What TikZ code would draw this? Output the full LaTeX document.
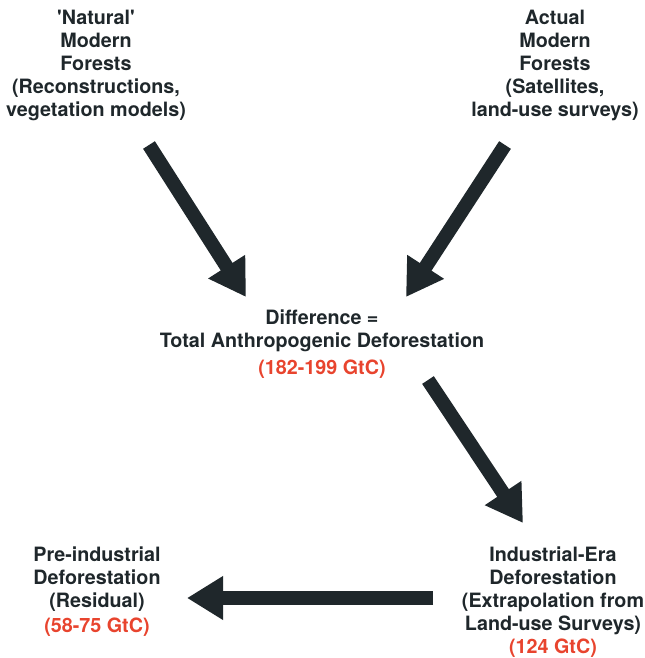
\documentclass[tikz,border=0pt]{standalone}
\usepackage{fontspec}
\setmainfont{TeX Gyre Heros}
\usepackage{tikz}
\usetikzlibrary{arrows.meta, calc}
\definecolor{inkdark}{HTML}{1F272B}
\definecolor{gtcred}{HTML}{E8442E}

\begin{document}
\begin{tikzpicture}[
    x=0.75pt, y=-0.75pt,
    label/.style={
        align=center,
        inner sep=0pt,
        text=inkdark,
        font=\bfseries\fontsize{14.8}{17.25}\selectfont
    },
    bigarrow/.style={
        -{Triangle[length=27pt, width=31pt]},
        line width=10.5pt,
        color=inkdark
    }
]
\useasboundingbox (0,0) rectangle (645,658);

% Sources
\node[label] (natural) at (96,65) {
    \textquotesingle Natural\textquotesingle\\
    Modern\\
    Forests\\
    (Reconstructions,\\
    vegetation models)
};

\node[label] (actual) at (555,65) {
    Actual\\
    Modern\\
    Forests\\
    (Satellites,\\
    land-use surveys)
};

% Difference
\node[label] (diff) at (322,331) {
    Difference =\\
    Total Anthropogenic Deforestation
};
\node[label, text=gtcred] (diffval) at (322,369) {(182-199 GtC)};

% Industrial era
\node[label] (indust) at (553,591) {
    Industrial-Era\\
    Deforestation\\
    (Extrapolation from\\
    Land-use Surveys)
};
\node[label, text=gtcred] (industval) at (553,648) {(124 GtC)};

% Pre-industrial
\node[label] (preind) at (97,579) {
    Pre-industrial\\
    Deforestation\\
    (Residual)
};
\node[label, text=gtcred] (preindval) at (97,627) {(58-75 GtC)};

% Arrow ends
\coordinate (natout) at ($(natural.center)+(53,80)$);
\coordinate (actout) at ($(actual.center)+(-50,80)$);
\coordinate (diffinl) at ($(diff.center)+(-76,-34)$);
\coordinate (diffinr) at ($(diff.center)+(84,-34)$);
\coordinate (diffout) at ($(diffval.center)+(106,11)$);
\coordinate (industin) at ($(indust.center)+(-30,-68)$);
\coordinate (industout) at ($(indust.center)+(-120,7)$);
\coordinate (preindin) at ($(preind.center)+(90,19)$);

% Arrows
\draw[bigarrow] (natout) -- (diffinl);
\draw[bigarrow] (actout) -- (diffinr);
\draw[bigarrow] (diffout) -- (industin);
\draw[bigarrow] (industout) -- (preindin);

\end{tikzpicture}
\end{document}
